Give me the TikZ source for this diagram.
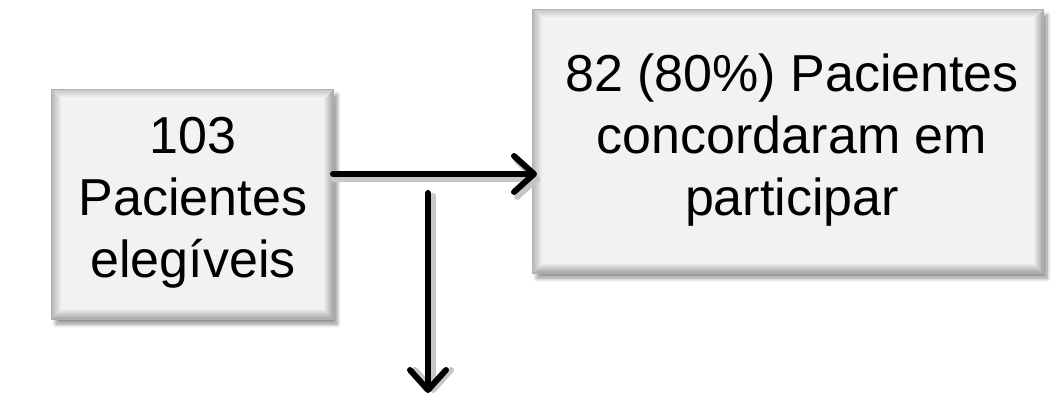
\documentclass[tikz,border=0pt]{standalone}
\usepackage{fontspec}
\setmainfont{Liberation Sans}
\usetikzlibrary{arrows.meta,shadows.blur,calc}
\tikzset{
  bevelbox/.style={draw=gray!55, line width=0.8pt, fill=gray!10, align=center, inner sep=0pt,
    blur shadow={shadow xshift=4pt, shadow yshift=-5pt, shadow opacity=45, shadow blur radius=4pt, shadow blur steps=8}},
  boxtext/.style={align=center, font=\fontsize{52}{62}\selectfont},
  arrowline/.style={line width=6pt, -{Straight Barb[length=20pt,width=36pt,line cap=round,line join=round]}, line cap=round},
  arrowshadow/.style={arrowline, draw=gray!45}
}
\newcommand{\bevelize}[2]{% node name, bevel width
  \shade[top color=gray!45, bottom color=white]
    (#1.north west) -- (#1.north east) -- ($(#1.north east)+(-#2,#2)$) -- ($(#1.north west)+(#2,#2)$) -- cycle;
  \shade[left color=gray!55, right color=gray!8]
    (#1.north west) -- ($(#1.north west)+(#2,#2)$) -- ($(#1.south west)+(#2,-#2)$) -- (#1.south west) -- cycle;
  \shade[left color=gray!12, right color=gray!75]
    (#1.north east) -- ($(#1.north east)+(-#2,#2)$) -- ($(#1.south east)+(-#2,-#2)$) -- (#1.south east) -- cycle;
  \shade[top color=gray!15, bottom color=gray!75]
    (#1.south west) -- ($(#1.south west)+(#2,-#2)$) -- ($(#1.south east)+(-#2,-#2)$) -- (#1.south east) -- cycle;
  \draw[gray!60, line width=0.8pt] (#1.north west) rectangle (#1.south east);
}
\begin{document}
\begin{tikzpicture}[x=1pt,y=-1pt]
\useasboundingbox (0,0) rectangle (1058,396);
\node[bevelbox, minimum width=281pt, minimum height=229pt] (elig) at (192.5,204.5) {};
\bevelize{elig}{10}
\node[boxtext] (eligtext) at (193,203) {103\\Pacientes\\elegíveis};
\node[bevelbox, minimum width=510pt, minimum height=263pt] (conc) at (788,141.5) {};
\bevelize{conc}{10}
\node[boxtext] (conctext) at (792,140) {82 (80\%) Pacientes\\concordaram em\\participar};
\coordinate (hstart) at (333,174);
\coordinate (hend) at (537,174);
\coordinate (vstart) at (428,193);
\coordinate (vend) at (428,393);
\draw[arrowshadow] ($(hstart)+(0,5)$) -- ($(hend)+(3,5)$);
\draw[arrowshadow] ($(vstart)+(5,3)$) -- ($(vend)+(5,0)$);
\draw[arrowline] (hstart) -- (hend);
\draw[arrowline] (vstart) -- (vend);
\end{tikzpicture}
\end{document}
